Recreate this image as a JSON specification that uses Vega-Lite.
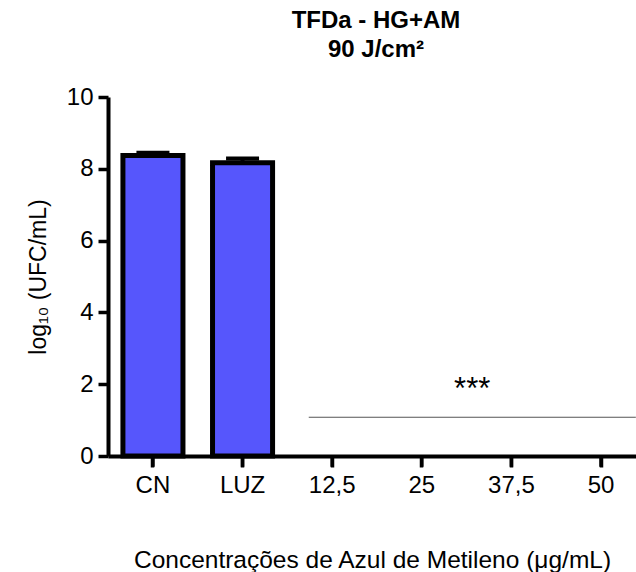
{
  "$schema": "https://vega.github.io/schema/vega-lite/v6.json",
  "width": 528,
  "height": 359,
  "autosize": {"type": "none"},
  "padding": {"left": 108, "top": 97, "right": 0, "bottom": 116},
  "background": "white",
  "config": {
    "font": "Liberation Sans",
    "view": {"stroke": null},
    "axis": {
      "domainColor": "black",
      "domainWidth": 4,
      "tickColor": "black",
      "tickWidth": 3.5,
      "tickSize": 10,
      "labelColor": "black",
      "titleColor": "black",
      "labelFont": "Liberation Sans",
      "titleFont": "Liberation Sans",
      "labelFontSize": 24,
      "titleFontWeight": "normal",
      "grid": false
    },
    "axisX": {
      "labelAngle": 0,
      "labelAlign": "center",
      "labelBaseline": "top",
      "labelPadding": 6,
      "titleFontSize": 24.5,
      "titlePadding": 51
    },
    "axisY": {
      "labelPadding": 5,
      "titleFontSize": 23,
      "titlePadding": 16
    }
  },
  "title": {
    "text": ["TFDa - HG+AM", "90 J/cm²"],
    "font": "Liberation Sans",
    "fontSize": 24,
    "fontWeight": "bold",
    "color": "black",
    "anchor": "middle",
    "frame": "group",
    "lineHeight": 29,
    "offset": 23,
    "dx": 4
  },
  "datasets": {
    "grupos": [
      {"grupo": "CN", "media": 8.37, "superior": 8.45},
      {"grupo": "LUZ", "media": 8.17, "superior": 8.29}
    ],
    "categorias": [
      {"grupo": "CN", "topo": 0, "base": -0.3},
      {"grupo": "LUZ", "topo": 0, "base": -0.3},
      {"grupo": "12,5", "topo": 0, "base": -0.3},
      {"grupo": "25", "topo": 0, "base": -0.3},
      {"grupo": "37,5", "topo": 0, "base": -0.3},
      {"grupo": "50", "topo": 0, "base": -0.3}
    ],
    "significancia": [
      {"inicio": "12,5", "fim": "50", "centro": "25", "nivel": 1.08, "nivel_texto": 1.85, "marca": "***"}
    ]
  },
  "layer": [
    {
      "data": {"name": "grupos"},
      "mark": {"type": "bar", "fill": "#5656FC", "stroke": "black", "strokeWidth": 5, "strokeJoin": "miter"},
      "encoding": {
        "x": {
          "field": "grupo",
          "type": "nominal",
          "sort": null,
          "scale": {
            "domain": ["CN", "LUZ", "12,5", "25", "37,5", "50"],
            "paddingInner": 0.33,
            "paddingOuter": 0.111,
            "align": 0.75
          },
          "axis": {
            "title": "Concentrações de Azul de Metileno (μg/mL)",
            "bandPosition": 0.5,
            "ticks": true,
            "tickBand": "center",
            "tickSize": 11,
            "tickWidth": 3.5,
            "tickColor": "black",
            "tickOpacity": 1
          }
        },
        "y": {
          "field": "media",
          "type": "quantitative",
          "scale": {"domain": [0, 10], "nice": false, "zero": true},
          "axis": {
            "title": "log₁₀ (UFC/mL)",
            "values": [0, 2, 4, 6, 8, 10]
          }
        }
      }
    },
    {
      "data": {"name": "categorias"},
      "mark": {"type": "rule", "stroke": "black", "strokeWidth": 3.5},
      "encoding": {
        "x": {"field": "grupo", "type": "nominal", "sort": null},
        "y": {"field": "topo", "type": "quantitative"},
        "y2": {"field": "base"}
      }
    },
    {
      "data": {"name": "grupos"},
      "mark": {"type": "rule", "stroke": "black", "strokeWidth": 4},
      "encoding": {
        "x": {"field": "grupo", "type": "nominal", "sort": null},
        "y": {"field": "media", "type": "quantitative"},
        "y2": {"field": "superior"}
      }
    },
    {
      "data": {"name": "grupos"},
      "mark": {"type": "tick", "orient": "horizontal", "color": "black", "thickness": 4, "size": 33, "opacity": 1},
      "encoding": {
        "x": {"field": "grupo", "type": "nominal", "sort": null},
        "y": {"field": "superior", "type": "quantitative"}
      }
    },
    {
      "data": {"name": "significancia"},
      "mark": {"type": "rule", "stroke": "#555555", "strokeWidth": 1.2},
      "encoding": {
        "x": {"field": "inicio", "type": "nominal", "bandPosition": 0.11},
        "x2": {"field": "fim", "bandPosition": 1.08},
        "y": {"field": "nivel", "type": "quantitative"}
      }
    },
    {
      "data": {"name": "significancia"},
      "mark": {"type": "text", "fontSize": 31, "color": "black", "baseline": "middle", "align": "center"},
      "encoding": {
        "x": {"field": "centro", "type": "nominal", "bandPosition": 1.34},
        "y": {"field": "nivel_texto", "type": "quantitative"},
        "text": {"field": "marca"}
      }
    }
  ]
}
